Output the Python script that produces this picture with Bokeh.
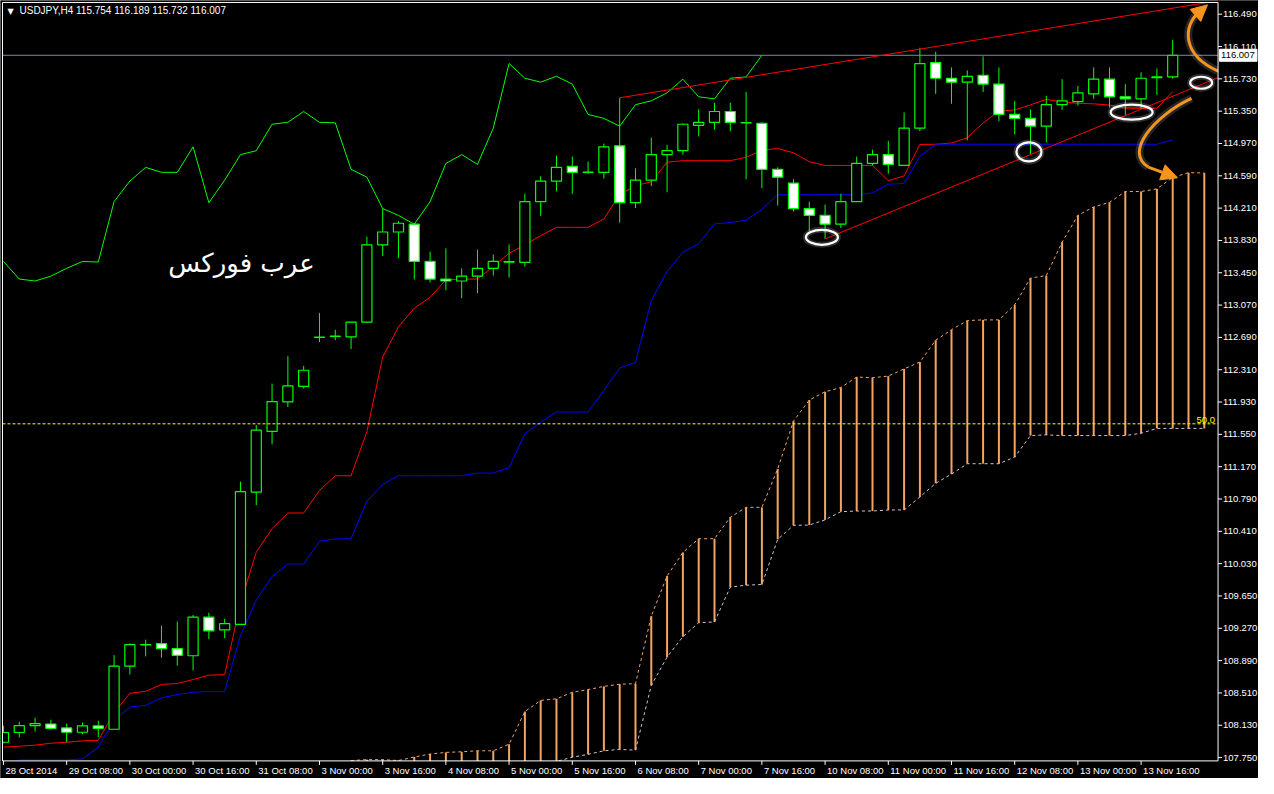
from bokeh.plotting import figure
from bokeh.models import Range1d, Arrow, NormalHead
from bokeh.core.properties import value
from bokeh.embed import file_html
from bokeh.resources import INLINE

# ---------------- data (USDJPY H4) ----------------
opens = [107.930, 108.045, 108.126, 108.145, 108.099, 108.048, 108.122, 108.083, 108.825, 109.078,
         109.090, 109.032, 108.947, 109.401, 109.251, 109.316, 110.871, 111.585, 111.931, 112.115,
         112.693, 112.705, 112.696, 112.869, 113.779, 113.929, 114.021, 113.583, 113.376, 113.353,
         113.410, 113.502, 113.580, 113.571, 114.286, 114.528, 114.701, 114.633, 114.631, 114.942,
         114.274, 114.539, 114.839, 114.885, 115.184, 115.219, 115.346, 115.216, 115.207, 114.666,
         114.505, 114.205, 114.124, 114.021, 114.286, 114.735, 114.839, 114.712, 115.150, 115.922,
         115.737, 115.691, 115.772, 115.668, 115.311, 115.265, 115.173, 115.426, 115.461, 115.553,
         115.726, 115.519, 115.495, 115.745, 115.754]
highs = [108.126, 108.172, 108.218, 108.195, 108.149, 108.163, 108.183, 108.955, 109.093, 109.136,
         109.301, 109.350, 109.427, 109.454, 109.381, 110.994, 111.659, 112.146, 112.469, 112.354,
         112.976, 112.780, 112.872, 113.874, 114.205, 114.059, 114.036, 113.698, 113.736, 113.502,
         113.721, 113.664, 113.782, 114.381, 114.585, 114.827, 114.816, 114.758, 114.969, 115.507,
         114.678, 115.038, 114.954, 115.207, 115.372, 115.449, 115.449, 115.576, 115.219, 114.689,
         114.551, 114.286, 114.251, 114.378, 114.816, 114.896, 115.000, 115.334, 116.095, 116.049,
         115.864, 115.830, 115.994, 115.864, 115.472, 115.369, 115.530, 115.726, 115.645, 115.864,
         115.864, 115.668, 115.807, 115.853, 116.189]
lows = [107.918, 107.987, 108.056, 108.079, 107.930, 108.025, 107.991, 108.083, 108.728, 108.940,
        108.924, 108.832, 108.774, 109.143, 109.154, 109.316, 110.718, 111.432, 111.870, 112.089,
        112.634, 112.657, 112.553, 112.869, 113.648, 113.624, 113.371, 113.336, 113.244, 113.152,
        113.210, 113.417, 113.394, 113.521, 114.120, 114.408, 114.378, 114.615, 114.558, 114.039,
        114.212, 114.470, 114.396, 114.839, 115.053, 115.134, 115.115, 114.551, 114.447, 114.240,
        114.171, 113.940, 113.848, 113.975, 114.286, 114.712, 114.615, 114.712, 115.115, 115.553,
        115.438, 115.007, 115.576, 115.231, 115.076, 114.846, 114.984, 115.364, 115.415, 115.495,
        115.392, 115.300, 115.380, 115.542, 115.732]
closes = [108.045, 108.126, 108.149, 108.094, 108.048, 108.122, 108.094, 108.825, 109.078, 109.076,
          109.032, 108.952, 109.401, 109.240, 109.324, 110.876, 111.601, 111.936, 112.120, 112.304,
          112.689, 112.701, 112.869, 113.779, 113.929, 114.032, 113.583, 113.376, 113.353, 113.410,
          113.502, 113.583, 113.576, 114.286, 114.528, 114.689, 114.631, 114.630, 114.931, 114.274,
          114.539, 114.839, 114.885, 115.196, 115.219, 115.346, 115.219, 115.213, 114.666, 114.574,
          114.205, 114.124, 114.021, 114.286, 114.735, 114.839, 114.724, 115.150, 115.910, 115.737,
          115.691, 115.760, 115.668, 115.311, 115.265, 115.173, 115.426, 115.472, 115.565, 115.726,
          115.519, 115.495, 115.737, 115.752, 116.007]

tenkan = [107.873, 107.884, 107.896, 107.919, 107.930, 107.947, 107.953, 108.276, 108.506, 108.529,
          108.610, 108.621, 108.667, 108.719, 108.725, 109.566, 110.165, 110.442, 110.626, 110.626,
          110.891, 111.064, 111.064, 111.582, 112.458, 112.815, 113.034, 113.161, 113.368, 113.374,
          113.376, 113.523, 113.679, 113.777, 113.886, 113.984, 113.984, 113.984, 114.082, 114.370,
          114.474, 114.520, 114.750, 114.768, 114.768, 114.768, 114.768, 114.808, 114.889, 114.912,
          114.860, 114.756, 114.712, 114.712, 114.712, 114.712, 114.532, 114.589, 114.958, 114.961,
          114.975, 115.038, 115.211, 115.350, 115.364, 115.424, 115.488, 115.459, 115.442, 115.436,
          115.422, 115.384, 115.384, 115.384, 115.580]
kijun = [107.600, 107.723, 107.723, 107.723, 107.723, 107.734, 107.873, 108.184, 108.345, 108.364,
         108.452, 108.491, 108.518, 108.526, 108.526, 109.186, 109.601, 109.877, 110.027, 110.027,
         110.292, 110.321, 110.323, 110.764, 110.960, 111.064, 111.064, 111.064, 111.064, 111.064,
         111.095, 111.095, 111.159, 111.559, 111.692, 111.813, 111.813, 111.813, 112.066, 112.331,
         112.397, 113.126, 113.464, 113.691, 113.791, 114.025, 114.040, 114.067, 114.197, 114.367,
         114.367, 114.367, 114.367, 114.367, 114.367, 114.388, 114.491, 114.500, 114.820, 114.961,
         114.961, 114.961, 114.961, 114.961, 114.961, 114.961, 114.961, 114.961, 114.961, 114.961,
         114.961, 114.961, 114.961, 114.961, 115.012]

cloud_start = 22   # first bar index of the visible kumo
span_a = [107.715, 107.726, 107.726, 107.715, 107.757, 107.792, 107.811, 107.818, 107.830, 107.830,
          107.907, 108.291, 108.422, 108.441, 108.518, 108.549, 108.587, 108.613, 108.618, 109.413,
          109.885, 110.162, 110.323, 110.323, 110.576, 110.692, 110.692, 111.144, 111.705, 111.954,
          112.051, 112.101, 112.224, 112.216, 112.235, 112.320, 112.400, 112.657, 112.780, 112.888,
          112.896, 112.896, 113.072, 113.388, 113.417, 113.809, 114.125, 114.224, 114.278, 114.405,
          114.405, 114.436, 114.570, 114.627, 114.624]
span_b = [107.600, 107.600, 107.600, 107.600, 107.600, 107.600, 107.600, 107.600, 107.600, 107.600,
          107.600, 107.600, 107.600, 107.705, 107.754, 107.788, 107.830, 107.846, 107.838, 108.598,
          108.932, 109.171, 109.336, 109.344, 109.754, 109.777, 109.785, 110.315, 110.480, 110.484,
          110.545, 110.641, 110.649, 110.649, 110.661, 110.661, 110.814, 110.975, 111.083, 111.205,
          111.205, 111.205, 111.283, 111.536, 111.544, 111.536, 111.536, 111.536, 111.536, 111.536,
          111.563, 111.620, 111.620, 111.620, 111.620]
chikou_shift = 26

time_tick_bars = [0, 4, 8, 12, 16, 20, 24, 28, 32, 36, 40, 44, 48, 52, 56, 60, 64, 68, 72]
time_tick_labels = ["28 Oct 2014", "29 Oct 08:00", "30 Oct 00:00", "30 Oct 16:00", "31 Oct 08:00",
                    "3 Nov 00:00", "3 Nov 16:00", "4 Nov 08:00", "5 Nov 00:00", "5 Nov 16:00",
                    "6 Nov 08:00", "7 Nov 00:00", "7 Nov 16:00", "10 Nov 08:00", "11 Nov 00:00",
                    "11 Nov 16:00", "12 Nov 08:00", "13 Nov 00:00", "13 Nov 16:00"]
price_ticks = [107.75, 108.13, 108.51, 108.89, 109.27, 109.65, 110.03, 110.41, 110.79, 111.17,
               111.55, 111.93, 112.31, 112.69, 113.07, 113.45, 113.83, 114.21, 114.59, 114.97,
               115.35, 115.73, 116.11, 116.49]
price_tick_labels = ["%.3f" % t for t in price_ticks]

bid_price = 116.007
fib50_price = 111.674
header_text = "USDJPY,H4  115.754 116.189 115.732 116.007"

# drawn objects: trendlines (bar index, price), ellipses, arrows
upper_trend_x = [39, 77]
upper_trend_y = [115.507, 116.651]
lower_trend_x = [52, 77]
lower_trend_y = [113.848, 115.754]
ellipse_x = [51.8, 64.9, 71.4, 75.8]
ellipse_y = [113.867, 114.871, 115.338, 115.684]
ellipse_w = [32, 25, 42, 22]
ellipse_h = [15, 19, 15, 12]
arrow_curve_x0 = [76.87, 75.19]
arrow_curve_y0 = [115.822, 115.499]
arrow_curve_cx0 = [74.5, 72.8]
arrow_curve_cy0 = [116.018, 115.292]
arrow_curve_cx1 = [74.7, 70.9]
arrow_curve_cy1 = [116.363, 114.866]
arrow_curve_x1 = [75.65, 72.45]
arrow_curve_y1 = [116.51, 114.693]
arrow_head_start = [(75.65, 116.51), (72.45, 114.693)]
arrow_head_end = [(76.2, 116.60), (74.3, 114.566)]

watermark_x = 15.06
watermark_y = 113.564

# ---------------- layout ----------------
W, H = 1258, 778
XR0, XR1 = -0.1875, 79.43        # whole canvas, in bar units
YR0, YR1 = 107.504, 116.651      # whole canvas, in price units
FX0, FX1 = -0.061, 76.87         # chart frame
FY0, FY1 = 107.711, 116.628
PXX = W / (XR1 - XR0)            # pixels per bar
PXY = H / (YR1 - YR0)            # pixels per price unit

GREEN = "#00FF00"
ORANGE = "#F4A460"
ARROW = "#F7941D"
FONT = value("Liberation Sans")

p = figure(width=W, height=H, x_range=Range1d(XR0, XR1), y_range=Range1d(YR0, YR1),
           x_axis_location=None, y_axis_location=None, output_backend="svg",
           toolbar_location=None, background_fill_color="black", border_fill_color="black",
           outline_line_color=None, min_border=0)
p.grid.visible = False

# kumo
cloud_idx = list(range(cloud_start, cloud_start + len(span_a)))
p.segment(x0=cloud_idx, y0=span_b, x1=cloud_idx, y1=span_a, line_color=ORANGE, line_width=2)
p.line(cloud_idx, span_a, line_color=ORANGE, line_dash="3 3", line_width=1)
p.line(cloud_idx, span_b, line_color="#D8BFD8", line_dash="3 3", line_width=1)

idx = list(range(len(opens)))
# ichimoku lines
p.line(idx, tenkan, line_color="#FF0000", line_width=1)
p.line(idx, kijun, line_color="#0000FF", line_width=1)
p.line(idx[:len(idx) - chikou_shift], closes[chikou_shift:], line_color=GREEN, line_width=1)

# candles
body_top = [max(o, c) for o, c in zip(opens, closes)]
body_bot = [min(o, c) for o, c in zip(opens, closes)]
fills = ["black" if c >= o else "white" for o, c in zip(opens, closes)]
p.segment(x0=idx, y0=lows, x1=idx, y1=highs, line_color=GREEN, line_width=1)
p.vbar(x=idx, top=body_top, bottom=body_bot, width=0.64, fill_color=fills,
       line_color=GREEN, line_width=1.2)

# horizontal levels
p.segment(x0=[FX0], y0=[bid_price], x1=[FX1], y1=[bid_price], line_color="#7F8C99", line_width=1)
p.segment(x0=[FX0], y0=[fib50_price], x1=[FX1], y1=[fib50_price], line_color="#FFFF00",
          line_dash="3 2", line_width=1)
p.text(x=[FX1 - 3 / PXX], y=[fib50_price + 1 / PXY], text=["50.0"], text_align="right",
       text_baseline="bottom", text_color="#FFFF00", text_font=FONT, text_font_size="9.5px")

# trendlines
p.line(upper_trend_x, upper_trend_y, line_color="#FF0000", line_width=1)
p.line(lower_trend_x, lower_trend_y, line_color="#FF0000", line_width=1)

# ellipses (with soft glow)
p.ellipse(x=ellipse_x, y=ellipse_y, width=ellipse_w, height=ellipse_h,
          width_units="screen", height_units="screen", fill_color=None,
          line_color="white", line_alpha=0.18, line_width=6)
p.ellipse(x=ellipse_x, y=ellipse_y, width=ellipse_w, height=ellipse_h,
          width_units="screen", height_units="screen", fill_color=None,
          line_color="white", line_width=2.2)

# orange curved arrows
p.bezier(x0=arrow_curve_x0, y0=arrow_curve_y0, x1=arrow_curve_x1, y1=arrow_curve_y1,
         cx0=arrow_curve_cx0, cy0=arrow_curve_cy0, cx1=arrow_curve_cx1, cy1=arrow_curve_cy1,
         line_color="white", line_alpha=0.15, line_width=8)
p.bezier(x0=arrow_curve_x0, y0=arrow_curve_y0, x1=arrow_curve_x1, y1=arrow_curve_y1,
         cx0=arrow_curve_cx0, cy0=arrow_curve_cy0, cx1=arrow_curve_cx1, cy1=arrow_curve_cy1,
         line_color=ARROW, line_width=3)

# mask outside the chart frame (acts as clipping)
p.quad(left=[XR0, FX1, XR0, XR0], right=[FX0, XR1, XR1, XR1],
       bottom=[YR0, YR0, YR0, FY1], top=[YR1, YR1, FY0, YR1],
       fill_color="black", line_color=None)

# frame border
p.line([FX0, FX1, FX1, FX0, FX0], [FY0, FY0, FY1, FY1, FY0], line_color="white", line_width=1)

# price axis (right)
p.segment(x0=[FX1] * len(price_ticks), y0=price_ticks,
          x1=[FX1 + 4 / PXX] * len(price_ticks), y1=price_ticks, line_color="white", line_width=1)
p.text(x=[FX1 + 5 / PXX] * len(price_ticks), y=price_ticks, text=price_tick_labels,
       text_align="left", text_baseline="middle", text_color="white",
       text_font=FONT, text_font_size="9.5px")

# current price box
p.quad(left=[FX1 + 1.5 / PXX], right=[XR1 - 1.5 / PXX],
       bottom=[bid_price - 6 / PXY], top=[bid_price + 6 / PXY],
       fill_color="white", line_color="white")
p.text(x=[FX1 + 3 / PXX], y=[bid_price], text=["%.3f" % bid_price], text_align="left",
       text_baseline="middle", text_color="black", text_font=FONT, text_font_size="9.5px")

# time axis (bottom)
p.segment(x0=time_tick_bars, y0=[FY0] * len(time_tick_bars),
          x1=time_tick_bars, y1=[FY0 - 4 / PXY] * len(time_tick_bars),
          line_color="white", line_width=1)
p.text(x=[b + 2 / PXX for b in time_tick_bars], y=[FY0 - 4 / PXY] * len(time_tick_bars),
       text=time_tick_labels, text_align="left", text_baseline="top", text_color="white",
       text_font=FONT, text_font_size="9.5px")

# arrow heads
for (xs, ys), (xe, ye) in zip(arrow_head_start, arrow_head_end):
    p.add_layout(Arrow(end=NormalHead(size=16, fill_color=ARROW, line_color=ARROW),
                       x_start=xs, y_start=ys, x_end=xe, y_end=ye,
                       line_color=ARROW, line_width=3))

# texts
p.text(x=[watermark_x], y=[watermark_y], text=["عرب فوركس"], text_align="center",
       text_baseline="middle", text_color="white", text_font=value("DejaVu Sans"),
       text_font_size="26px")
p.text(x=[FX0 + 5 / PXX], y=[FY1 - 5 / PXY], text=["\u25BC"], text_align="left",
       text_baseline="top", text_color="white", text_font=value("DejaVu Sans"),
       text_font_size="8px")
p.text(x=[FX0 + 17 / PXX], y=[FY1 - 3 / PXY], text=[header_text], text_align="left",
       text_baseline="top", text_color="white", text_font=FONT, text_font_size="10px")

open("out.html", "w").write(file_html(p, INLINE))
